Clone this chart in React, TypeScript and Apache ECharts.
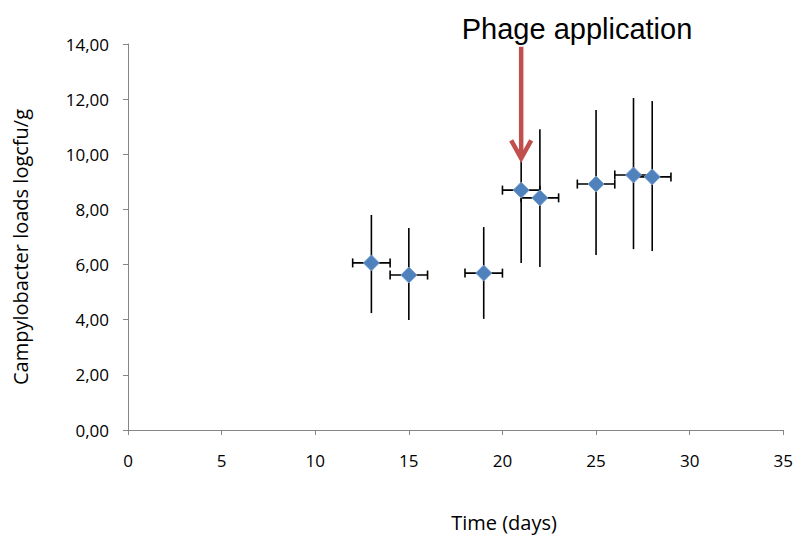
import React, { useEffect, useRef } from "react";
import * as echarts from "echarts";

const days = [13, 15, 19, 21, 22, 25, 27, 28];
const means = [6.06, 5.62, 5.69, 8.7, 8.42, 8.92, 9.25, 9.18];
const lower = [4.24, 3.99, 4.03, 6.06, 5.91, 6.35, 6.56, 6.49];
const upper = [7.8, 7.33, 7.36, 11.3, 10.91, 11.61, 12.04, 11.93];
const dayErr = [1, 1, 1, 1, 1, 1, 1, 1];
const phageDay = 21;
const arrowTop = 13.9;
const arrowTip = 9.85;

const xTitle = "Time (days)";
const yTitle = "Campylobacter loads logcfu/g";
const annotation = "Phage application";

const FONT = "'Open Sans', sans-serif";

export default function App() {
  const ref = useRef<HTMLDivElement>(null);
  useEffect(() => {
    if (!ref.current) return;
    const chart = echarts.init(ref.current, null, { renderer: "svg" });
    const errData = days.map((d, i) => [d, means[i], lower[i], upper[i], d - dayErr[i], d + dayErr[i]]);
    chart.setOption({
      animation: false,
      grid: { left: 128, right: 10, top: 44, bottom: 106 },
      xAxis: {
        type: "value",
        min: 0,
        max: 35,
        interval: 5,
        splitLine: { show: false },
        axisLine: { lineStyle: { color: "#868686", width: 1 } },
        axisTick: { show: true, length: 5, lineStyle: { color: "#868686" } },
        axisLabel: { color: "#000", fontFamily: FONT, fontSize: 17, margin: 22 },
      },
      yAxis: {
        type: "value",
        min: 0,
        max: 14,
        interval: 2,
        splitLine: { show: false },
        axisLine: { show: true, lineStyle: { color: "#868686", width: 1 } },
        axisTick: { show: true, length: 5, lineStyle: { color: "#868686" } },
        axisLabel: {
          color: "#000",
          fontFamily: FONT,
          fontSize: 17,
          margin: 19,
          formatter: (v: number) => v.toFixed(2).replace(".", ","),
        },
      },
      series: [
        {
          type: "custom",
          z: 2,
          data: errData,
          encode: { x: 0, y: 1 },
          renderItem: (params: any, api: any) => {
            const x = api.value(0);
            const y = api.value(1);
            const lo = api.coord([x, api.value(2)]);
            const hi = api.coord([x, api.value(3)]);
            const xl = api.coord([api.value(4), y]);
            const xr = api.coord([api.value(5), y]);
            const style = { stroke: "#000", lineWidth: 1.6 };
            const cap = 4.5;
            return {
              type: "group",
              children: [
                { type: "line", shape: { x1: lo[0], y1: lo[1], x2: hi[0], y2: hi[1] }, style },
                { type: "line", shape: { x1: xl[0], y1: xl[1], x2: xr[0], y2: xr[1] }, style },
                { type: "line", shape: { x1: xl[0], y1: xl[1] - cap, x2: xl[0], y2: xl[1] + cap }, style },
                { type: "line", shape: { x1: xr[0], y1: xr[1] - cap, x2: xr[0], y2: xr[1] + cap }, style },
              ],
            };
          },
        },
        {
          type: "scatter",
          z: 3,
          symbol: "diamond",
          symbolSize: 16,
          itemStyle: { color: "#4F81BD", borderColor: "#7a9fd0", borderWidth: 1, opacity: 1 },
          data: days.map((d, i) => [d, means[i]]),
        },
      ],
    });
    const top = chart.convertToPixel({ gridIndex: 0 }, [phageDay, arrowTop]) as number[];
    const tip = chart.convertToPixel({ gridIndex: 0 }, [phageDay, arrowTip]) as number[];
    const red = "#C0504D";
    chart.setOption({
      graphic: [
        {
          type: "line",
          z: 10,
          shape: { x1: top[0], y1: top[1], x2: tip[0], y2: tip[1] - 2 },
          style: { stroke: red, lineWidth: 4.5 },
        },
        {
          type: "polyline",
          z: 10,
          shape: { points: [[tip[0] - 10, tip[1] - 18], [tip[0], tip[1]], [tip[0] + 10, tip[1] - 18]] },
          style: { stroke: red, lineWidth: 4.5, fill: "none", lineJoin: "miter" },
        },
        {
          type: "text",
          z: 10,
          x: 577,
          y: 29,
          style: { text: annotation, fontFamily: "'Liberation Sans', Arial, sans-serif", fontSize: 29, fill: "#000", align: "center", verticalAlign: "middle" },
        },
        {
          type: "text",
          x: 504,
          y: 522,
          style: { text: xTitle, fontFamily: FONT, fontSize: 20, fill: "#000", align: "center", verticalAlign: "middle" },
        },
        {
          type: "text",
          x: 20,
          y: 247,
          rotation: Math.PI / 2,
          style: { text: yTitle, fontFamily: FONT, fontSize: 20, fill: "#000", align: "center", verticalAlign: "middle" },
        },
      ],
    });
    return () => chart.dispose();
  }, []);
  return <div ref={ref} style={{ position: "fixed", left: 0, top: 0, width: 796, height: 536, background: "#fff" }} />;
}
